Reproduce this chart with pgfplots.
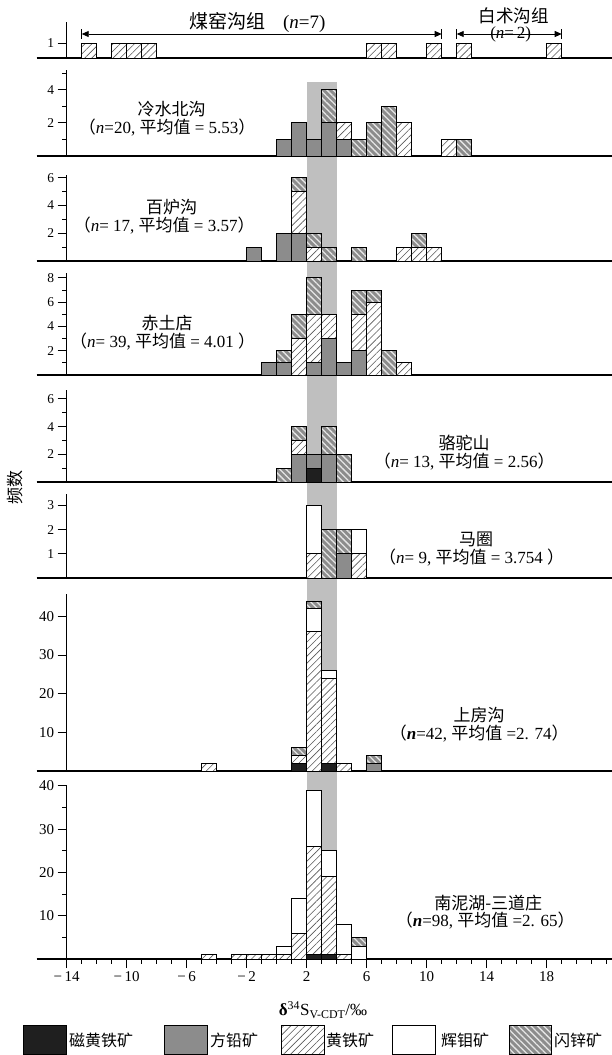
\documentclass[border=0pt]{standalone}
\usepackage{fontspec}
\setmainfont{Liberation Serif}
\newfontfamily\cjk{Noto Sans CJK SC}
\usepackage{pgfplots}
\pgfplotsset{compat=1.18}
\usepackage{pgfplotstable}
\usetikzlibrary{patterns.meta,arrows.meta}
\newcommand{\zh}[1]{{\cjk #1}}
\newcommand{\lf}{\fontsize{17}{19}\selectfont}

% columns: a=磁黄铁矿 b=方铅矿 c=黄铁矿 d=辉钼矿 e=闪锌矿 ; x = bin centre
\pgfplotstableread{
x c
-12.5 1
-10.5 1
-9.5 1
-8.5 1
6.5 1
7.5 1
10.5 1
12.5 1
18.5 1
}\tblA
\pgfplotstableread{
x a b c d e
0.5 0 1 0 0 0
1.5 0 2 0 0 0
2.5 0 1 0 0 0
3.5 0 2 0 0 2
4.5 0 1 1 0 0
5.5 0 0 0 0 1
6.5 0 0 0 0 2
7.5 0 0 0 0 3
8.5 0 0 2 0 0
9.5 0 0 0 0 0
10.5 0 0 0 0 0
11.5 0 0 1 0 0
12.5 0 0 0 0 1
}\tblB
\pgfplotstableread{
x a b c d e
-1.5 0 1 0 0 0
-0.5 0 0 0 0 0
0.5 0 2 0 0 0
1.5 0 2 3 0 1
2.5 0 0 1 0 1
3.5 0 0 0 0 1
4.5 0 0 0 0 0
5.5 0 0 0 0 1
6.5 0 0 0 0 0
7.5 0 0 0 0 0
8.5 0 0 1 0 0
9.5 0 0 1 0 1
10.5 0 0 1 0 0
}\tblC
\pgfplotstableread{
x a b c d e
-0.5 0 1 0 0 0
0.5 0 1 0 0 1
1.5 0 0 3 0 2
2.5 0 1 4 0 3
3.5 0 3 2 0 0
4.5 0 1 0 0 0
5.5 0 2 3 0 2
6.5 0 0 6 0 1
7.5 0 0 0 0 2
8.5 0 0 1 0 0
}\tblD
\pgfplotstableread{
x a b c d e
0.5 0 0 0 0 1
1.5 0 2 1 0 1
2.5 1 1 0 0 0
3.5 0 2 0 0 2
4.5 0 0 0 0 2
}\tblE
\pgfplotstableread{
x a b c d e
2.5 0 0 1 2 0
3.5 0 0 0 0 2
4.5 0 1 0 0 1
5.5 0 0 1 1 0
}\tblF
\pgfplotstableread{
x a b c d e
-4.5 0 0 2 0 0
-3.5 0 0 0 0 0
-2.5 0 0 0 0 0
-1.5 0 0 0 0 0
-0.5 0 0 0 0 0
0.5 0 0 0 0 0
1.5 2 0 2 0 2
2.5 0 0 36 6 2
3.5 2 0 22 2 0
4.5 0 0 2 0 0
5.5 0 0 0 0 0
6.5 0 2 0 0 2
}\tblG
\pgfplotstableread{
x a b c d e
-4.5 0 0 1 0 0
-3.5 0 0 0 0 0
-2.5 0 0 1 0 0
-1.5 0 0 1 0 0
-0.5 0 0 1 0 0
0.5 0 0 1 2 0
1.5 0 0 6 8 0
2.5 1 0 25 13 0
3.5 1 0 18 6 0
4.5 0 0 1 7 0
5.5 0 0 0 3 2
}\tblH

\tikzset{
  pyr/.style={fill=white, postaction={pattern={Lines[angle=45,distance=5pt,line width=0.6pt]}, pattern color=black!65}},
  sph/.style={fill=black!45, postaction={pattern={Lines[angle=-45,distance=4.5pt,line width=1.3pt]}, pattern color=white!80!gray}},
  barA/.style={draw=black, line width=0.9pt, fill=black!88},
  barB/.style={draw=black, line width=0.9pt, fill=black!45},
  barC/.style={draw=black, line width=0.9pt, pyr},
  barD/.style={draw=black, line width=0.9pt, fill=white},
  barE/.style={draw=black, line width=0.9pt, sph},
}
\newcommand{\stackbars}[1]{%
  \addplot[barA] table[x=x,y=a]{#1};
  \addplot[barB] table[x=x,y=b]{#1};
  \addplot[barC] table[x=x,y=c]{#1};
  \addplot[barD] table[x=x,y=d]{#1};
  \addplot[barE] table[x=x,y=e]{#1};
}
\newcommand{\axisext}{\draw[line width=1.1pt] (axis cs:-16,0) -- (axis cs:-14,0);}
\newcommand{\arrowbar}[1]{\draw[line width=1.1pt] ([yshift=-5pt]axis cs:#1,1.6) -- ([yshift=5pt]axis cs:#1,1.6);}

\pgfplotsset{
  panel/.style={
    scale only axis, width=545.25pt, xmin=-14, xmax=22.35, ymin=0,
    anchor=south west,
    axis x line*=bottom, axis y line*=left, tick align=outside,
    axis line style={line width=1.1pt, black},
    xtick=\empty, minor xtick={-14,-13,...,22},
    major tick length=9pt, minor tick length=4.5pt,
    every tick/.append style={line width=1pt, black},
    clip=false, ybar stacked, bar width=1,
    yticklabel style={font=\fontsize{13.5}{13.5}\selectfont},
    /pgf/number format/assume math mode=true,
  },
}

\begin{document}
\begin{tikzpicture}
\useasboundingbox (0,0) rectangle (612pt,-1055pt);
\fill[black!25] (306.7pt,-82pt) rectangle (336.7pt,-959pt);

% panel 1
\begin{axis}[panel, at={(66.7pt,-58pt)}, height=36pt, ymax=2.4, ytick={1}]
\addplot[barC] table[x=x,y=c]{\tblA};
\axisext
\draw[line width=0.8pt, {Triangle[length=7pt,width=6pt]}-{Triangle[length=7pt,width=6pt]}] (axis cs:-13,1.6) -- (axis cs:11,1.6);
\arrowbar{-13}
\arrowbar{11}
\draw[line width=0.8pt, {Triangle[length=7pt,width=6pt]}-{Triangle[length=7pt,width=6pt]}] (axis cs:12,1.6) -- (axis cs:19,1.6);
\arrowbar{12}
\arrowbar{19}
\node[font=\fontsize{19}{21}\selectfont, inner sep=1pt] at (axis cs:-1.3,2.35) {\zh{煤窑沟组}\hspace{18pt}(\textit{n}=7)};
\node[font=\fontsize{17.5}{19}\selectfont, inner sep=0pt] at (axis cs:15.8,2.78) {\zh{白术沟组}};
\node[font=\fontsize{17}{19}\selectfont, fill=white, inner sep=1.5pt] at (axis cs:15.6,1.6) {(\textit{n}=\,2)};
\end{axis}

% panel 2
\begin{axis}[panel, at={(66.7pt,-156pt)}, height=86pt, ymax=5.2, ytick={2,4}, minor ytick={1,3,5}]
\stackbars{\tblB}
\axisext
\node[font=\lf] at (axis cs:-7,2.85) {\zh{冷水北沟}};
\node[font=\lf] at (axis cs:-7.3,1.75) {\zh{（}\textit{n}=20, \zh{平均值} = 5.53\zh{）}};
\end{axis}

% panel 3
\begin{axis}[panel, at={(66.7pt,-261pt)}, height=86pt, ymax=6.2, ytick={2,4,6}, minor ytick={1,3,5}]
\stackbars{\tblC}
\axisext
\node[font=\lf] at (axis cs:-7,3.88) {\zh{百炉沟}};
\node[font=\lf] at (axis cs:-7.5,2.59) {\zh{（}\textit{n}= 17, \zh{平均值} = 3.57\zh{）}};
\end{axis}

% panel 4
\begin{axis}[panel, at={(66.7pt,-375pt)}, height=102pt, ymax=8.4, ytick={2,4,6,8}, minor ytick={1,3,5,7}]
\stackbars{\tblD}
\axisext
\node[font=\lf] at (axis cs:-7.3,4.25) {\zh{赤土店}};
\node[font=\lf] at (axis cs:-7.6,2.76) {\zh{（}\textit{n}= 39, \zh{平均值} =\ 4.01\ \zh{）}};
\end{axis}

% panel 5
\begin{axis}[panel, at={(66.7pt,-482pt)}, height=92pt, ymax=6.65, ytick={2,4,6}, minor ytick={1,3,5}]
\stackbars{\tblE}
\axisext
\node[font=\lf] at (axis cs:12.5,2.8) {\zh{骆驼山}};
\node[font=\lf] at (axis cs:12.5,1.5) {\zh{（}\textit{n}= 13, \zh{平均值} =\ 2.56\zh{）}};
\end{axis}

% panel 6
\begin{axis}[panel, at={(66.7pt,-578pt)}, height=84pt, ymax=3.47, ytick={1,2,3}]
\stackbars{\tblF}
\axisext
\node[font=\lf] at (axis cs:13.3,1.6) {\zh{马圈}};
\node[font=\lf] at (axis cs:13.0,0.86) {\zh{（}\textit{n}= 9, \zh{平均值} = 3.754\ \zh{）}};
\end{axis}

% panel 7
\begin{axis}[panel, at={(66.7pt,-771pt)}, height=177pt, ymax=45.8, ytick={10,20,30,40},
  yticklabel style={font=\fontsize{15}{15}\selectfont}]
\stackbars{\tblG}
\axisext
\node[font=\lf] at (axis cs:13.5,14.5) {\zh{上房沟}};
\node[font=\lf] at (axis cs:13.5,9.8) {\zh{（}\textbf{\textit{n}}=42, \zh{平均值} =2. 74\zh{）}};
\end{axis}

% panel 8
\begin{axis}[panel, at={(66.7pt,-959pt)}, height=174.5pt, ymax=40.3, ytick={10,20,30,40}, minor ytick={5,15,25,35},
  yticklabel style={font=\fontsize{15}{15}\selectfont},
  xtick={-14,-10,...,18}, xticklabels={−\,14,−\,10,−\,6,−\,2,2,6,10,14,18},
  xticklabel style={font=\fontsize{15}{15}\selectfont}]
\stackbars{\tblH}
\axisext
\node[font=\lf] at (axis cs:14.1,13.0) {\zh{南泥湖-三道庄}};
\node[font=\lf] at (axis cs:13.9,8.8) {\zh{（}\textbf{\textit{n}}=98, \zh{平均值} =2. 65\zh{）}};
\end{axis}

% y label
\node[rotate=90, font=\fontsize{17}{19}\selectfont] at (15pt,-487pt) {\zh{频数}};
% x label
\node[font=\fontsize{17}{19}\selectfont] at (323pt,-1010pt) {\textbf{δ}\textsuperscript{34}S\textsubscript{V-CDT}/‰};

% legend
\draw[line width=1pt, fill=black!88] (23pt,-1025pt) rectangle (66pt,-1054pt);
\node[anchor=west, inner sep=1pt, font=\fontsize{16}{18}\selectfont] at (68pt,-1040pt) {\zh{磁黄铁矿}};
\draw[line width=1pt, fill=black!45] (164pt,-1025pt) rectangle (207pt,-1054pt);
\node[anchor=west, inner sep=1pt, font=\fontsize{16}{18}\selectfont] at (209pt,-1040pt) {\zh{方铅矿}};
\draw[line width=1pt, pyr] (281pt,-1025pt) rectangle (324pt,-1054pt);
\draw[line width=1pt] (281pt,-1025pt) rectangle (324pt,-1054pt);
\node[anchor=west, inner sep=1pt, font=\fontsize{16}{18}\selectfont] at (325pt,-1040pt) {\zh{黄铁矿}};
\draw[line width=1pt, fill=white] (392pt,-1025pt) rectangle (435pt,-1054pt);
\node[anchor=west, inner sep=1pt, font=\fontsize{16}{18}\selectfont] at (440pt,-1040pt) {\zh{辉钼矿}};
\draw[line width=1pt, sph] (509pt,-1025pt) rectangle (551pt,-1054pt);
\draw[line width=1pt] (509pt,-1025pt) rectangle (551pt,-1054pt);
\node[anchor=west, inner sep=1pt, font=\fontsize{16}{18}\selectfont] at (553pt,-1040pt) {\zh{闪锌矿}};
\end{tikzpicture}
\end{document}
